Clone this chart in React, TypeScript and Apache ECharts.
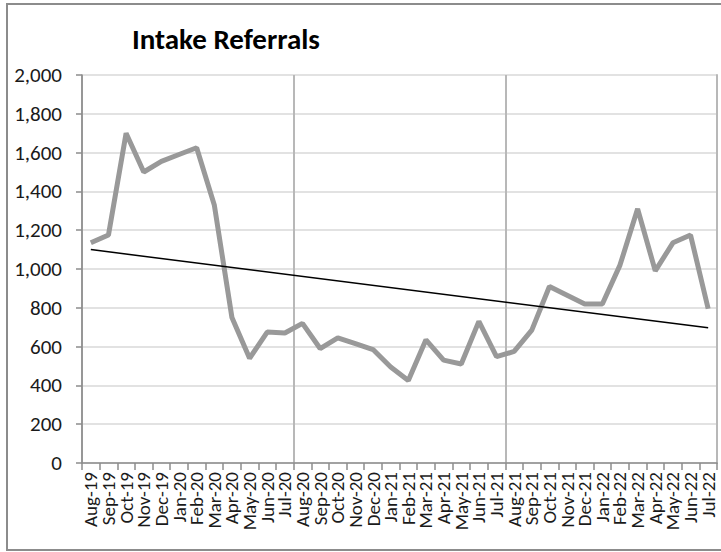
import React, { useEffect, useRef } from "react";
import * as echarts from "echarts";

const months = [
  "Aug-19", "Sep-19", "Oct-19", "Nov-19", "Dec-19", "Jan-20", "Feb-20", "Mar-20", "Apr-20", "May-20", "Jun-20", "Jul-20",
  "Aug-20", "Sep-20", "Oct-20", "Nov-20", "Dec-20", "Jan-21", "Feb-21", "Mar-21", "Apr-21", "May-21", "Jun-21", "Jul-21",
  "Aug-21", "Sep-21", "Oct-21", "Nov-21", "Dec-21", "Jan-22", "Feb-22", "Mar-22", "Apr-22", "May-22", "Jun-22", "Jul-22",
];

const referrals = [
  1135, 1175, 1700, 1500, 1555, 1590, 1625, 1330, 750, 540, 675, 670,
  720, 590, 645, 615, 585, 495, 425, 635, 530, 510, 730, 548,
  575, 685, 910, 865, 820, 820, 1020, 1310, 990, 1135, 1175, 795,
];

// linear trendline endpoints
const trendStart = 1100;
const trendEnd = 697;

const FONT = "Carlito, Lato, 'Open Sans', sans-serif";

export default function App() {
  const ref = useRef<HTMLDivElement>(null);

  useEffect(() => {
    document.body.style.margin = "0";
    if (!ref.current) return;
    const chart = echarts.init(ref.current, undefined, { renderer: "svg" });
    const trend = months.map((_, i) => (i === 0 ? trendStart : i === months.length - 1 ? trendEnd : null));
    chart.setOption({
      animation: false,
      backgroundColor: "#ffffff",
      title: {
        text: "Intake Referrals",
        left: 127,
        top: 19,
        textStyle: { fontFamily: FONT, fontSize: 29, fontWeight: "bold", color: "#000" },
      },
      graphic: [
        {
          type: "rect",
          shape: { x: 7, y: 4, width: 720, height: 546 },
          style: { fill: "none", stroke: "#8c8c8c", lineWidth: 2 },
          silent: true,
          z: 0,
        },
      ],
      grid: { left: 82, right: 4, top: 75, bottom: 89, containLabel: false },
      xAxis: {
        type: "category",
        data: months,
        boundaryGap: true,
        axisLine: { show: true, lineStyle: { color: "#8c8c8c", width: 1.5 } },
        axisTick: { show: true, length: 7, interval: 0, lineStyle: { color: "#8c8c8c", width: 1.5 } },
        axisLabel: {
          interval: 0,
          rotate: 90,
          margin: 9,
          fontFamily: FONT,
          fontSize: 19,
          color: "#1a1a1a",
        },
        splitLine: {
          show: true,
          interval: (index: number) => index % 12 === 0,
          lineStyle: { color: "#b8b8b8", width: 2 },
        },
      },
      yAxis: [
        {
          type: "value",
          min: 0,
          max: 2000,
          interval: 200,
          axisLine: { show: true, lineStyle: { color: "#8c8c8c", width: 1.5 } },
          axisTick: { show: true, length: 6, lineStyle: { color: "#8c8c8c", width: 1.5 } },
          axisLabel: {
            margin: 20,
            fontFamily: FONT,
            fontSize: 21,
            color: "#1a1a1a",
            formatter: (v: number) => v.toLocaleString("en-US"),
          },
          splitLine: { show: true, lineStyle: { color: "#d9d9d9", width: 1.5 } },
        },
        {
          type: "value",
          position: "right",
          min: 0,
          max: 2000,
          interval: 200,
          axisLine: { show: true, lineStyle: { color: "#b8b8b8", width: 2 } },
          axisTick: { show: false },
          axisLabel: { show: false },
          splitLine: { show: false },
        },
      ],
      series: [
        {
          name: "Referrals",
          type: "line",
          data: referrals,
          showSymbol: false,
          symbol: "none",
          lineStyle: { color: "#999999", width: 5 },
          z: 3,
        },
        {
          name: "Trend",
          type: "line",
          data: trend,
          connectNulls: true,
          showSymbol: false,
          symbol: "none",
          lineStyle: { color: "#000000", width: 1.5 },
          z: 4,
        },
      ],
    });
    return () => chart.dispose();
  }, []);

  return <div ref={ref} style={{ width: 721, height: 552 }} />;
}
